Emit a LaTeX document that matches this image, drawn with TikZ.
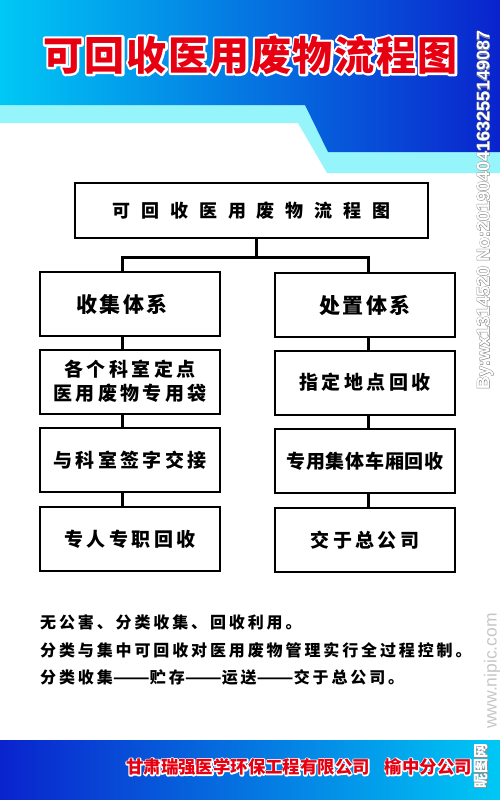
\documentclass[tikz,border=0pt]{standalone}
\usepackage{fontspec}
\usepackage{graphicx}
\setmainfont{Noto Sans CJK SC}
\newfontfamily\latinsans{Liberation Sans}

\definecolor{bannerlight}{RGB}{0,200,245}
\definecolor{bannerdark}{RGB}{10,35,205}
\definecolor{bandcyan}{RGB}{150,245,250}
\definecolor{titlered}{RGB}{230,0,18}

\newcommand\titlefont{\fontsize{40}{40}\selectfont\bfseries\addfontfeatures{LetterSpace=4}}
\newcommand\topfont{\fontsize{18}{18}\selectfont\bfseries\addfontfeatures{LetterSpace=60}}
\newcommand\headfont{\fontsize{21}{21}\selectfont\bfseries\addfontfeatures{LetterSpace=10}}
\newcommand\boxfont{\fontsize{19}{24}\selectfont\bfseries\addfontfeatures{LetterSpace=18}}
\newcommand\notefont{\fontsize{16}{27.5}\selectfont\bfseries\addfontfeatures{LetterSpace=18}}
\newcommand\firmfont{\fontsize{17.4}{17.4}\selectfont\bfseries}
% rim under the letters: a stroked copy, then the filled text
\newcommand\rimmed[3][1 1 1]{\rlap{\special{pdf:literal direct 1 j #2 w #1 RG 1 Tr}#3\special{pdf:literal direct 0 Tr}}#3}
\newcommand\longdash{\scalebox{1.35}[1]{——}}

\begin{document}
\begin{tikzpicture}[x=1pt,y=-1pt]
    \tikzstyle{box}=[draw, line width=2pt, minimum width=180pt, minimum height=64pt, inner sep=0pt, align=center, font=\boxfont]
    \tikzstyle{topbox}=[box, minimum width=353pt, minimum height=55pt, font=\topfont]
    \tikzstyle{link}=[line width=3pt]
    \tikzstyle{banner}=[text=titlered, inner sep=0pt]
    \tikzstyle{note}=[align=left, inner sep=0pt, font=\notefont]
    \tikzstyle{stamp}=[rotate=90, inner sep=0pt, text=white]

    \useasboundingbox (0,0) rectangle (500,800);
    \fill[white] (0,0) rectangle (500,800);

    % Draw the top banner
    \fill[bandcyan] (0,100) -- (500,100) -- (500,173) -- (327,173) -- (298,123) -- (0,123) -- cycle;
    \shade[left color=bannerlight, right color=bannerdark]
        (0,0) -- (500,0) -- (500,152) -- (328,152) -- (305,105) -- (0,105) -- cycle;
    \node[banner, font=\titlefont] (title) at (250.5,55) {\rimmed{4.5}{可回收医用废物流程图}};

    % Draw the top box and the two systems
    \node[topbox] (top) at (251.5,210.5) {可回收医用废物流程图};
    \node[box, font=\headfont] (L-1) at (130,304) {\hspace*{-16pt}收集体系};
    \node[box, font=\headfont] (R-1) at (365,305) {处置体系};

    % Draw the left column
    \foreach \name / \y / \txt in {2/381.5/{各个科室定点\\医用废物专用袋}, 3/460/{与科室签字交接}, 4/539/{专人专职回收}}
        \node[box] (L-\name) at (130,\y) {\txt};

    % Draw the right column
    \foreach \name / \y / \txt in {2/382.5/{指定地点回收}, 3/461/{\addfontfeatures{LetterSpace=4}专用集体车厢回收}, 4/540/{交于总公司}}
        \node[box] (R-\name) at (365,\y) {\txt};

    % Connect the top box with both columns
    \coordinate (split) at (256,257);
    \draw[link] ([xshift=4.5pt]top.south) -- (split);
    \draw[link] ([xshift=-8pt]L-1.north) |- (split) -| ([xshift=3pt]R-1.north);

    % Connect the boxes in each column
    \foreach \a / \b in {1/2,2/3,3/4} {
        \draw[link] ([xshift=-8pt]L-\a.south) -- ([xshift=-8pt]L-\b.north);
        \draw[link] ([xshift=3pt]R-\a.south) -- ([xshift=3pt]R-\b.north);
    }

    % Notes under the chart
    \node[note, anchor=west] (notes) at (40,650) {无公害、分类收集、回收利用。\\分类与集中可回收对医用废物管理实行全过程控制。\\分类收集\longdash 贮存\longdash 运送\longdash 交于总公司。};

    % Draw the bottom banner
    \shade[left color=bannerdark, right color=bannerlight] (0,740) rectangle (500,800);
    \node[banner, font=\firmfont, anchor=east] (firm) at (472,767) {\rimmed{2.5}{甘肃瑞强医学环保工程有限公司\hspace{15pt}榆中分公司}};

    % Marks along the right edge
    \node[stamp, font=\latinsans\bfseries\fontsize{18}{18}\selectfont] (upload) at (485,210) {\rimmed[0.55 0.55 0.55]{1}{By:wx1314520 No:20190404163255149087}};
    \node[stamp, text=black!22, font=\latinsans\fontsize{17.5}{17.5}\selectfont] (site) at (492,671) {www.nipic.com};
    \node[stamp, font=\bfseries\fontsize{15}{15}\selectfont] (sitecn) at (481,766) {\rimmed[0.55 0.55 0.55]{1}{昵图网}};
\end{tikzpicture}
\end{document}
